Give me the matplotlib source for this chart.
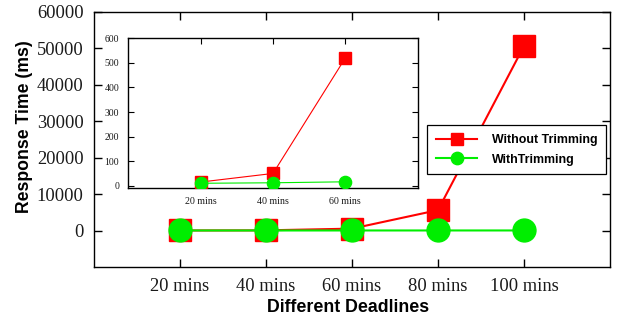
import matplotlib
matplotlib.use("Agg")
import matplotlib.pyplot as plt

# Response times (ms) for each deadline setting
deadlines = ["20 mins", "40 mins", "60 mins", "80 mins", "100 mins"]
without_trimming = [15, 50, 520, 5600, 50600]
with_trimming = [10, 12, 16, 18, 20]

# Zoomed-in view of the first three deadlines
inset_deadlines = deadlines[:3]
inset_without = without_trimming[:3]
inset_with = with_trimming[:3]

RED = "#ff0000"
GREEN = "#00ee00"
SERIF = "Liberation Serif"
SANS = "Liberation Sans"

fig = plt.figure(figsize=(6.17, 3.2), dpi=100)
ax = fig.add_axes([94 / 617, 1 - 267 / 320, 516 / 617, 255.3 / 320])

x = list(range(1, len(deadlines) + 1))
ax.plot(x, without_trimming, color=RED, lw=1.5, marker="s", ms=16.5,
        mec=RED, label="Without Trimming", zorder=3)
ax.plot(x, with_trimming, color=GREEN, lw=1.5, marker="o", ms=16.5,
        mec=GREEN, label="WithTrimming", zorder=4)

ax.set_xlim(0, 6)
ax.set_ylim(-10000, 60000)
ax.set_xticks(x)
ax.set_xticklabels(deadlines)
ax.set_yticks(range(0, 60001, 10000))
ax.tick_params(direction="in", length=6, width=1, top=True, right=True,
               labelsize=13.3, colors="black", pad=8)
ax.tick_params(axis="y", pad=7.5)
for lab in ax.get_xticklabels() + ax.get_yticklabels():
    lab.set_fontfamily(SERIF)
    lab.set_color("#1a1a1a")
for sp in ax.spines.values():
    sp.set_linewidth(1.0)

fig.text(25 / 617, 1 - 126.7 / 320, "Response Time (ms)", rotation=90,
         ha="center", va="center", fontsize=12.7, fontweight="bold",
         family=SANS)
fig.text(348 / 617, (320 - 311.7) / 320, "Different Deadlines",
         ha="center", va="baseline", fontsize=12.8, fontweight="bold",
         family=SANS)

leg = ax.legend(loc="upper left", bbox_to_anchor=(427.3 / 617, 1 - 125 / 320),
                bbox_transform=fig.transFigure, frameon=True, fancybox=False,
                framealpha=1, edgecolor="black", borderpad=0.72,
                borderaxespad=0, handlelength=3.3, handletextpad=1.2,
                labelspacing=0.62, markerscale=0.54,
                prop={"family": SANS, "weight": "bold", "size": 8.9})
leg.get_frame().set_linewidth(0.9)
leg.set_zorder(10)

# inset
ins = fig.add_axes([128.3 / 617, 1 - 187.7 / 320, 289.4 / 617, 149.4 / 320])
ix = list(range(1, len(inset_deadlines) + 1))
ins.plot(ix, inset_without, color=RED, lw=0.8, marker="s", ms=8.8,
         mec=RED, zorder=3)
ins.plot(ix, inset_with, color=GREEN, lw=0.8, marker="o", ms=8.8,
         mec=GREEN, zorder=4)
ins.set_xlim(0, 4)
ins.set_ylim(-8, 600)
ins.set_xticks(ix)
ins.set_xticklabels(inset_deadlines)
ins.set_yticks(range(0, 601, 100))
ins.tick_params(direction="in", length=4, width=0.8, top=True, right=True,
                colors="black")
ins.tick_params(axis="x", labelsize=7.2, pad=7)
ins.tick_params(axis="y", labelsize=7, pad=6.5)
for lab in ins.get_xticklabels() + ins.get_yticklabels():
    lab.set_fontfamily(SERIF)
    lab.set_color("#1a1a1a")
for sp in ins.spines.values():
    sp.set_linewidth(1.0)

fig.savefig("out.png", dpi=100)
